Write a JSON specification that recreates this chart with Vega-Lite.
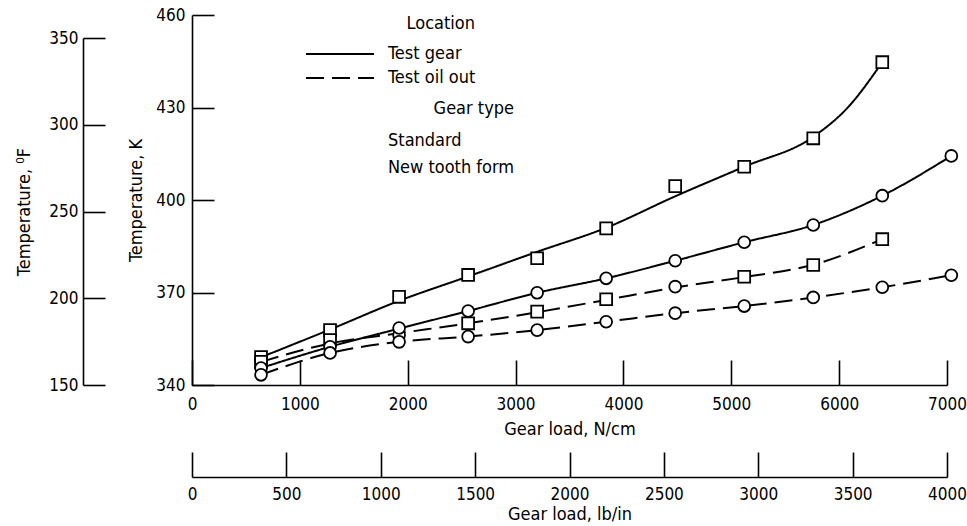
{
  "$schema": "https://vega.github.io/schema/vega-lite/v6.json",
  "width": 755,
  "height": 370,
  "autosize": {"type": "none"},
  "padding": {"left": 192, "top": 15, "right": 20, "bottom": 141},
  "background": "white",
  "config": {
    "font": "DejaVu Sans Condensed",
    "view": {"stroke": null},
    "axis": {
      "grid": false,
      "domainColor": "black",
      "domainWidth": 1.6,
      "tickColor": "black",
      "tickWidth": 1.6,
      "labelColor": "black",
      "titleColor": "black",
      "labelFontSize": 17,
      "titleFontSize": 18,
      "titleFontWeight": "normal",
      "labelFont": "DejaVu Sans Condensed",
      "titleFont": "DejaVu Sans Condensed",
      "labelOverlap": false,
      "labelFlush": false,
      "format": "d"
    },
    "legend": {
      "labelFontSize": 18,
      "titleFontSize": 18,
      "titleFontWeight": "normal",
      "labelColor": "black",
      "titleColor": "black",
      "labelFont": "DejaVu Sans Condensed",
      "titleFont": "DejaVu Sans Condensed",
      "padding": 0
    }
  },
  "datasets": {
    "curves": [
      {"location": "Test gear", "gear": "New tooth form", "load": 640, "temp": 349.0},
      {"location": "Test gear", "gear": "New tooth form", "load": 1280, "temp": 358.0},
      {"location": "Test gear", "gear": "New tooth form", "load": 1920, "temp": 367.3},
      {"location": "Test gear", "gear": "New tooth form", "load": 2560, "temp": 375.2},
      {"location": "Test gear", "gear": "New tooth form", "load": 3200, "temp": 383.2},
      {"location": "Test gear", "gear": "New tooth form", "load": 3840, "temp": 391.0},
      {"location": "Test gear", "gear": "New tooth form", "load": 4480, "temp": 401.2},
      {"location": "Test gear", "gear": "New tooth form", "load": 5120, "temp": 410.8},
      {"location": "Test gear", "gear": "New tooth form", "load": 5760, "temp": 420.5},
      {"location": "Test gear", "gear": "New tooth form", "load": 6080, "temp": 430.0},
      {"location": "Test gear", "gear": "New tooth form", "load": 6400, "temp": 444.7},
      {"location": "Test gear", "gear": "Standard", "load": 640, "temp": 345.5},
      {"location": "Test gear", "gear": "Standard", "load": 1280, "temp": 352.4},
      {"location": "Test gear", "gear": "Standard", "load": 1920, "temp": 358.3},
      {"location": "Test gear", "gear": "Standard", "load": 2560, "temp": 364.0},
      {"location": "Test gear", "gear": "Standard", "load": 3200, "temp": 369.9},
      {"location": "Test gear", "gear": "Standard", "load": 3840, "temp": 374.6},
      {"location": "Test gear", "gear": "Standard", "load": 4480, "temp": 380.3},
      {"location": "Test gear", "gear": "Standard", "load": 5120, "temp": 386.3},
      {"location": "Test gear", "gear": "Standard", "load": 5760, "temp": 391.9},
      {"location": "Test gear", "gear": "Standard", "load": 6400, "temp": 401.4},
      {"location": "Test gear", "gear": "Standard", "load": 7040, "temp": 414.3},
      {"location": "Test oil out", "gear": "New tooth form", "load": 640, "temp": 347.5},
      {"location": "Test oil out", "gear": "New tooth form", "load": 1280, "temp": 353.5},
      {"location": "Test oil out", "gear": "New tooth form", "load": 1920, "temp": 356.8},
      {"location": "Test oil out", "gear": "New tooth form", "load": 2560, "temp": 360.0},
      {"location": "Test oil out", "gear": "New tooth form", "load": 3200, "temp": 363.6},
      {"location": "Test oil out", "gear": "New tooth form", "load": 3840, "temp": 367.6},
      {"location": "Test oil out", "gear": "New tooth form", "load": 4480, "temp": 371.6},
      {"location": "Test oil out", "gear": "New tooth form", "load": 5120, "temp": 375.0},
      {"location": "Test oil out", "gear": "New tooth form", "load": 5760, "temp": 379.0},
      {"location": "Test oil out", "gear": "New tooth form", "load": 6400, "temp": 387.3},
      {"location": "Test oil out", "gear": "Standard", "load": 640, "temp": 343.3},
      {"location": "Test oil out", "gear": "Standard", "load": 1280, "temp": 350.4},
      {"location": "Test oil out", "gear": "Standard", "load": 1920, "temp": 354.0},
      {"location": "Test oil out", "gear": "Standard", "load": 2560, "temp": 355.7},
      {"location": "Test oil out", "gear": "Standard", "load": 3200, "temp": 357.8},
      {"location": "Test oil out", "gear": "Standard", "load": 3840, "temp": 360.5},
      {"location": "Test oil out", "gear": "Standard", "load": 4480, "temp": 363.3},
      {"location": "Test oil out", "gear": "Standard", "load": 5120, "temp": 365.6},
      {"location": "Test oil out", "gear": "Standard", "load": 5760, "temp": 368.4},
      {"location": "Test oil out", "gear": "Standard", "load": 6400, "temp": 371.7},
      {"location": "Test oil out", "gear": "Standard", "load": 7040, "temp": 375.6}
    ],
    "points": [
      {"gear": "New tooth form", "load": 640, "temp": 349.1},
      {"gear": "New tooth form", "load": 1280, "temp": 357.8},
      {"gear": "New tooth form", "load": 1920, "temp": 368.6},
      {"gear": "New tooth form", "load": 2560, "temp": 375.7},
      {"gear": "New tooth form", "load": 3200, "temp": 381.1},
      {"gear": "New tooth form", "load": 3840, "temp": 390.8},
      {"gear": "New tooth form", "load": 4480, "temp": 404.5},
      {"gear": "New tooth form", "load": 5120, "temp": 410.8},
      {"gear": "New tooth form", "load": 5760, "temp": 420.0},
      {"gear": "New tooth form", "load": 6400, "temp": 444.7},
      {"gear": "New tooth form", "load": 640, "temp": 347.5},
      {"gear": "New tooth form", "load": 1280, "temp": 354.6},
      {"gear": "Standard", "load": 1920, "temp": 356.2},
      {"gear": "New tooth form", "load": 2560, "temp": 360.0},
      {"gear": "New tooth form", "load": 3200, "temp": 363.8},
      {"gear": "New tooth form", "load": 3840, "temp": 367.8},
      {"gear": "Standard", "load": 4480, "temp": 371.9},
      {"gear": "New tooth form", "load": 5120, "temp": 375.1},
      {"gear": "New tooth form", "load": 5760, "temp": 378.9},
      {"gear": "New tooth form", "load": 6400, "temp": 387.3},
      {"gear": "Standard", "load": 640, "temp": 345.5},
      {"gear": "Standard", "load": 1280, "temp": 352.4},
      {"gear": "Standard", "load": 1920, "temp": 358.5},
      {"gear": "Standard", "load": 2560, "temp": 364.0},
      {"gear": "Standard", "load": 3200, "temp": 369.9},
      {"gear": "Standard", "load": 3840, "temp": 374.6},
      {"gear": "Standard", "load": 4480, "temp": 380.3},
      {"gear": "Standard", "load": 5120, "temp": 386.3},
      {"gear": "Standard", "load": 5760, "temp": 391.9},
      {"gear": "Standard", "load": 6400, "temp": 401.4},
      {"gear": "Standard", "load": 7040, "temp": 414.3},
      {"gear": "Standard", "load": 640, "temp": 343.3},
      {"gear": "Standard", "load": 1280, "temp": 350.4},
      {"gear": "Standard", "load": 1920, "temp": 354.0},
      {"gear": "Standard", "load": 2560, "temp": 355.7},
      {"gear": "Standard", "load": 3200, "temp": 357.8},
      {"gear": "Standard", "load": 3840, "temp": 360.5},
      {"gear": "Standard", "load": 4480, "temp": 363.3},
      {"gear": "Standard", "load": 5120, "temp": 365.6},
      {"gear": "Standard", "load": 5760, "temp": 368.4},
      {"gear": "Standard", "load": 6400, "temp": 371.7},
      {"gear": "Standard", "load": 7040, "temp": 375.6}
    ],
    "fscale": [{"f": 150}, {"f": 350}],
    "lbscale": [{"lb": 0}, {"lb": 4000}]
  },
  "layer": [
    {
      "data": {"name": "curves"},
      "mark": {"type": "line", "interpolate": "monotone", "strokeWidth": 2, "color": "black"},
      "encoding": {
        "x": {
          "field": "load", "type": "quantitative",
          "scale": {"domain": [0, 7000], "nice": false, "zero": false},
          "axis": {
            "orient": "bottom",
            "values": [0, 1000, 2000, 3000, 4000, 5000, 6000, 7000],
            "tickSize": -25,
            "labelPadding": 36,
            "title": "Gear load, N/cm",
            "titlePadding": 8
          }
        },
        "y": {
          "field": "temp", "type": "quantitative",
          "scale": {"domain": [340, 460], "nice": false, "zero": false},
          "axis": {
            "orient": "left",
            "values": [340, 370, 400, 430, 460],
            "tickSize": -22,
            "labelPadding": 29,
            "title": "Temperature, K",
            "titlePadding": 10
          }
        },
        "strokeDash": {
          "field": "location", "type": "nominal",
          "scale": {"domain": ["Test gear", "Test oil out"], "range": [[1, 0], [18, 8]]},
          "legend": {
            "title": "Location",
            "orient": "none",
            "legendX": 113,
            "legendY": 0,
            "symbolType": "stroke",
            "symbolSize": 4624,
            "symbolStrokeWidth": 2,
            "symbolStrokeColor": "black",
            "clipHeight": 22,
            "rowPadding": 2,
            "labelOffset": 13,
            "titleAnchor": "end",
            "titleAlign": "right",
            "titlePadding": 10
          }
        },
        "detail": {"field": "gear", "type": "nominal"}
      }
    },
    {
      "data": {"name": "points"},
      "mark": {"type": "point", "filled": true, "fill": "white", "stroke": "black", "strokeWidth": 1.8, "size": 140, "opacity": 1},
      "encoding": {
        "x": {"field": "load", "type": "quantitative", "scale": {"domain": [0, 7000], "nice": false, "zero": false}, "axis": null},
        "y": {"field": "temp", "type": "quantitative", "scale": {"domain": [340, 460], "nice": false, "zero": false}, "axis": null},
        "shape": {
          "field": "gear", "type": "nominal",
          "scale": {"domain": ["Standard", "New tooth form"], "range": ["circle", "square"]},
          "legend": {
            "title": "Gear type",
            "orient": "none",
            "legendX": 140,
            "legendY": 85,
            "symbolSize": 140,
            "symbolFillColor": "white",
            "symbolStrokeColor": "black",
            "symbolStrokeWidth": 1.8,
            "symbolOpacity": 1,
            "rowPadding": 7,
            "labelOffset": 38,
            "titleAnchor": "end",
            "titleAlign": "right",
            "titlePadding": 14,
            "encode": {
              "symbols": {
                "update": {
                  "size": {"value": 140},
                  "fill": {"value": "white"},
                  "stroke": {"value": "black"},
                  "strokeWidth": {"value": 1.8},
                  "strokeDash": {"value": [1, 0]},
                  "fillOpacity": {"value": 1},
                  "strokeOpacity": {"value": 1},
                  "opacity": {"value": 1}
                }
              }
            }
          }
        }
      }
    },
    {
      "data": {"name": "fscale"},
      "mark": {"type": "point", "size": 0, "strokeWidth": 0},
      "encoding": {
        "y": {
          "field": "f", "type": "quantitative",
          "scale": {"domain": [150, 350], "range": [370, 23], "nice": false, "zero": false},
          "axis": {
            "orient": "left",
            "offset": 109,
            "values": [150, 200, 250, 300, 350],
            "tickSize": -22,
            "labelPadding": 27,
            "title": "Temperature, ⁰F",
            "titlePadding": 15
          }
        }
      }
    },
    {
      "data": {"name": "lbscale"},
      "mark": {"type": "point", "size": 0, "strokeWidth": 0},
      "encoding": {
        "x": {
          "field": "lb", "type": "quantitative",
          "scale": {"domain": [0, 4000], "nice": false, "zero": false},
          "axis": {
            "orient": "bottom",
            "offset": 92,
            "values": [0, 500, 1000, 1500, 2000, 2500, 3000, 3500, 4000],
            "tickSize": -25,
            "labelPadding": 34,
            "title": "Gear load, lb/in",
            "titlePadding": 3
          }
        }
      }
    }
  ],
  "resolve": {"scale": {"x": "independent", "y": "independent"}}
}
